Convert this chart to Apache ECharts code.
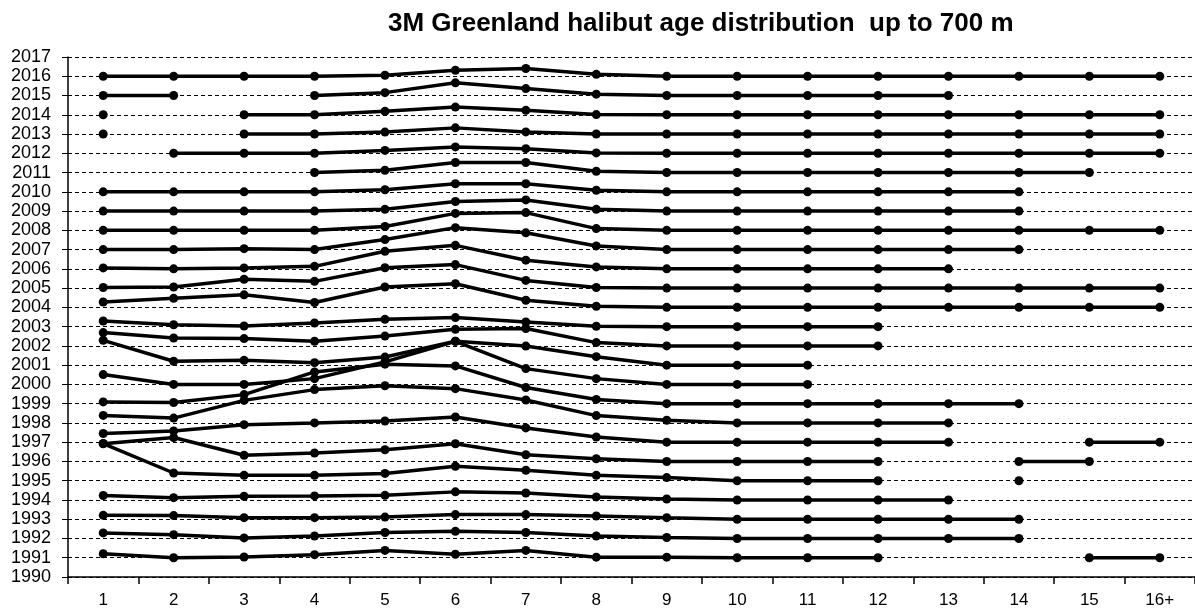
<!DOCTYPE html>
<html>
<head>
<meta charset="utf-8">
<script src="https://cdn.jsdelivr.net/npm/echarts@6/dist/echarts.min.js"></script>
<style>
  html, body { margin: 0; padding: 0; background: #fff; }
  #chart { width: 1195px; height: 611px; }
</style>
</head>
<body>
<div id="chart"></div>
<script>
// ages on the x axis
const ages = ['1', '2', '3', '4', '5', '6', '7', '8', '9', '10', '11', '12', '13', '14', '15', '16+']

// each year's curve sits on its own baseline (the year), values are the offset above it
// null = no data for that age
const d1991 = [0.21, 0, 0.04, 0.16, 0.38, 0.18, 0.38, 0.03, 0.03, 0, 0, 0, null, null, 0, 0]
const d1992 = [0.29, 0.2, 0.03, 0.13, 0.31, 0.37, 0.31, 0.13, 0.05, 0, 0, 0, 0, 0, null, null]
const d1993 = [0.2, 0.19, 0.08, 0.08, 0.11, 0.24, 0.24, 0.17, 0.08, 0, 0, 0, 0, 0, null, null]
const d1994 = [0.23, 0.12, 0.19, 0.21, 0.24, 0.42, 0.36, 0.16, 0.05, 0, 0, 0, 0, null, null, null]
const d1995 = [1.93, 0.4, 0.28, 0.28, 0.38, 0.75, 0.54, 0.28, 0.16, 0, 0, 0, null, 0, null, null]
const d1996 = [0.92, 1.24, 0.32, 0.44, 0.61, 0.92, 0.35, 0.14, 0, 0, 0, 0, null, 0, 0, null]
const d1997 = [0.45, 0.58, 0.91, 1.0, 1.1, 1.31, 0.74, 0.27, 0, 0, 0, 0, 0, null, 0, 0]
const d1998 = [0.39, 0.25, 1.17, 1.73, 1.93, 1.78, 1.19, 0.38, 0.14, 0, 0, 0, 0, null, null, null]
const d1999 = [0.09, 0.06, 0.47, 1.65, 2.05, 1.96, 0.84, 0.22, 0, 0, 0, 0, 0, 0, null, null]
const d2000 = [0.51, 0, 0, 0.3, 1.17, 2.24, 0.82, 0.3, 0, 0, 0, null, null, null, null, null]
const d2001 = [1.29, 0.2, 0.25, 0.13, 0.42, 1.24, 0.99, 0.44, 0, 0, 0, null, null, null, null, null]
const d2002 = [0.69, 0.41, 0.38, 0.24, 0.51, 0.86, 0.9, 0.17, 0, 0, 0, 0, null, null, null, null]
const d2003 = [0.29, 0.1, 0.03, 0.19, 0.38, 0.47, 0.24, 0.02, 0, 0, 0, 0, null, null, null, null]
const d2004 = [0.28, 0.47, 0.65, 0.25, 1.06, 1.23, 0.37, 0.06, 0, 0, 0, 0, 0, 0, 0, 0]
const d2005 = [0.03, 0.06, 0.46, 0.35, 1.06, 1.22, 0.4, 0.03, 0, 0, 0, 0, 0, 0, 0, 0]
const d2006 = [0.05, 0, 0.05, 0.13, 0.91, 1.22, 0.45, 0.1, 0, 0, 0, 0, 0, null, null, null]
const d2007 = [0, 0, 0.05, 0, 0.52, 1.14, 0.87, 0.19, 0, 0, 0, 0, 0, 0, null, null]
const d2008 = [0, 0, 0, 0, 0.2, 0.88, 0.92, 0.09, 0, 0, 0, 0, 0, 0, 0, 0]
const d2009 = [0, 0, 0, 0, 0.09, 0.5, 0.58, 0.09, 0, 0, 0, 0, 0, 0, null, null]
const d2010 = [0, 0, 0, 0, 0.11, 0.42, 0.42, 0.08, 0, 0, 0, 0, 0, 0, null, null]
const d2011 = [null, null, null, 0, 0.12, 0.52, 0.52, 0.07, 0, 0, 0, 0, 0, 0, 0, null]
const d2012 = [null, 0, 0, 0, 0.15, 0.33, 0.24, 0.02, 0, 0, 0, 0, 0, 0, 0, 0]
const d2013 = [0, null, 0, 0, 0.1, 0.32, 0.11, 0, 0, 0, 0, 0, 0, 0, 0, 0]
const d2014 = [0, null, 0, 0, 0.18, 0.4, 0.23, 0.01, 0, 0, 0, 0, 0, 0, 0, 0]
const d2015 = [0, 0, null, 0, 0.15, 0.66, 0.36, 0.07, 0, 0, 0, 0, 0, null, null, null]
const d2016 = [0, 0, 0, 0, 0.05, 0.31, 0.4, 0.1, 0, 0, 0, 0, 0, 0, 0, 0]

const rows = [
  [1991, d1991], [1992, d1992], [1993, d1993], [1994, d1994], [1995, d1995],
  [1996, d1996], [1997, d1997], [1998, d1998], [1999, d1999], [2000, d2000],
  [2001, d2001], [2002, d2002], [2003, d2003], [2004, d2004], [2005, d2005],
  [2006, d2006], [2007, d2007], [2008, d2008], [2009, d2009], [2010, d2010],
  [2011, d2011], [2012, d2012], [2013, d2013], [2014, d2014], [2015, d2015],
  [2016, d2016]
]

const font = 'Arial, "Liberation Sans", sans-serif'

const series = rows.map(([year, vals]) => ({
  name: String(year),
  type: 'line',
  data: vals.map(v => (v === null ? null : year + v)),
  connectNulls: false,
  symbol: 'circle',
  symbolSize: 9,
  showAllSymbol: true,
  lineStyle: { color: '#000', width: 3.5 },
  itemStyle: { color: '#000' }
}))

const option = {
  animation: false,
  backgroundColor: '#fff',
  title: {
    text: '3M Greenland halibut age distribution  up to 700 m',
    left: 383,
    top: 6,
    textStyle: { fontFamily: font, fontSize: 26, fontWeight: 'bold', color: '#000' }
  },
  grid: {
    left: 68,
    top: 57,
    width: 1129,
    bottom: 34
  },
  xAxis: {
    type: 'category',
    data: ages,
    boundaryGap: true,
    axisLine: { lineStyle: { color: '#000', width: 1.5 } },
    axisTick: { show: true, interval: 0, inside: false, length: 7, lineStyle: { color: '#000', width: 1.5 } },
    axisLabel: { color: '#000', fontFamily: font, fontSize: 17, margin: 15 },
    splitLine: { show: false }
  },
  yAxis: {
    type: 'value',
    min: 1990,
    max: 2017,
    interval: 1,
    axisLine: { show: true, lineStyle: { color: '#000', width: 1.5 } },
    axisTick: { show: true, length: 6, lineStyle: { color: '#000', width: 1 } },
    axisLabel: {
      color: '#000',
      fontFamily: font,
      fontSize: 18,
      margin: 17,
      formatter: v => String(v)
    },
    splitLine: { show: true, lineStyle: { color: '#000', width: 1, type: [4, 3] } }
  },
  series: series
}

const myChart = echarts.init(document.getElementById('chart'))
myChart.setOption(option)
</script>
</body>
</html>
